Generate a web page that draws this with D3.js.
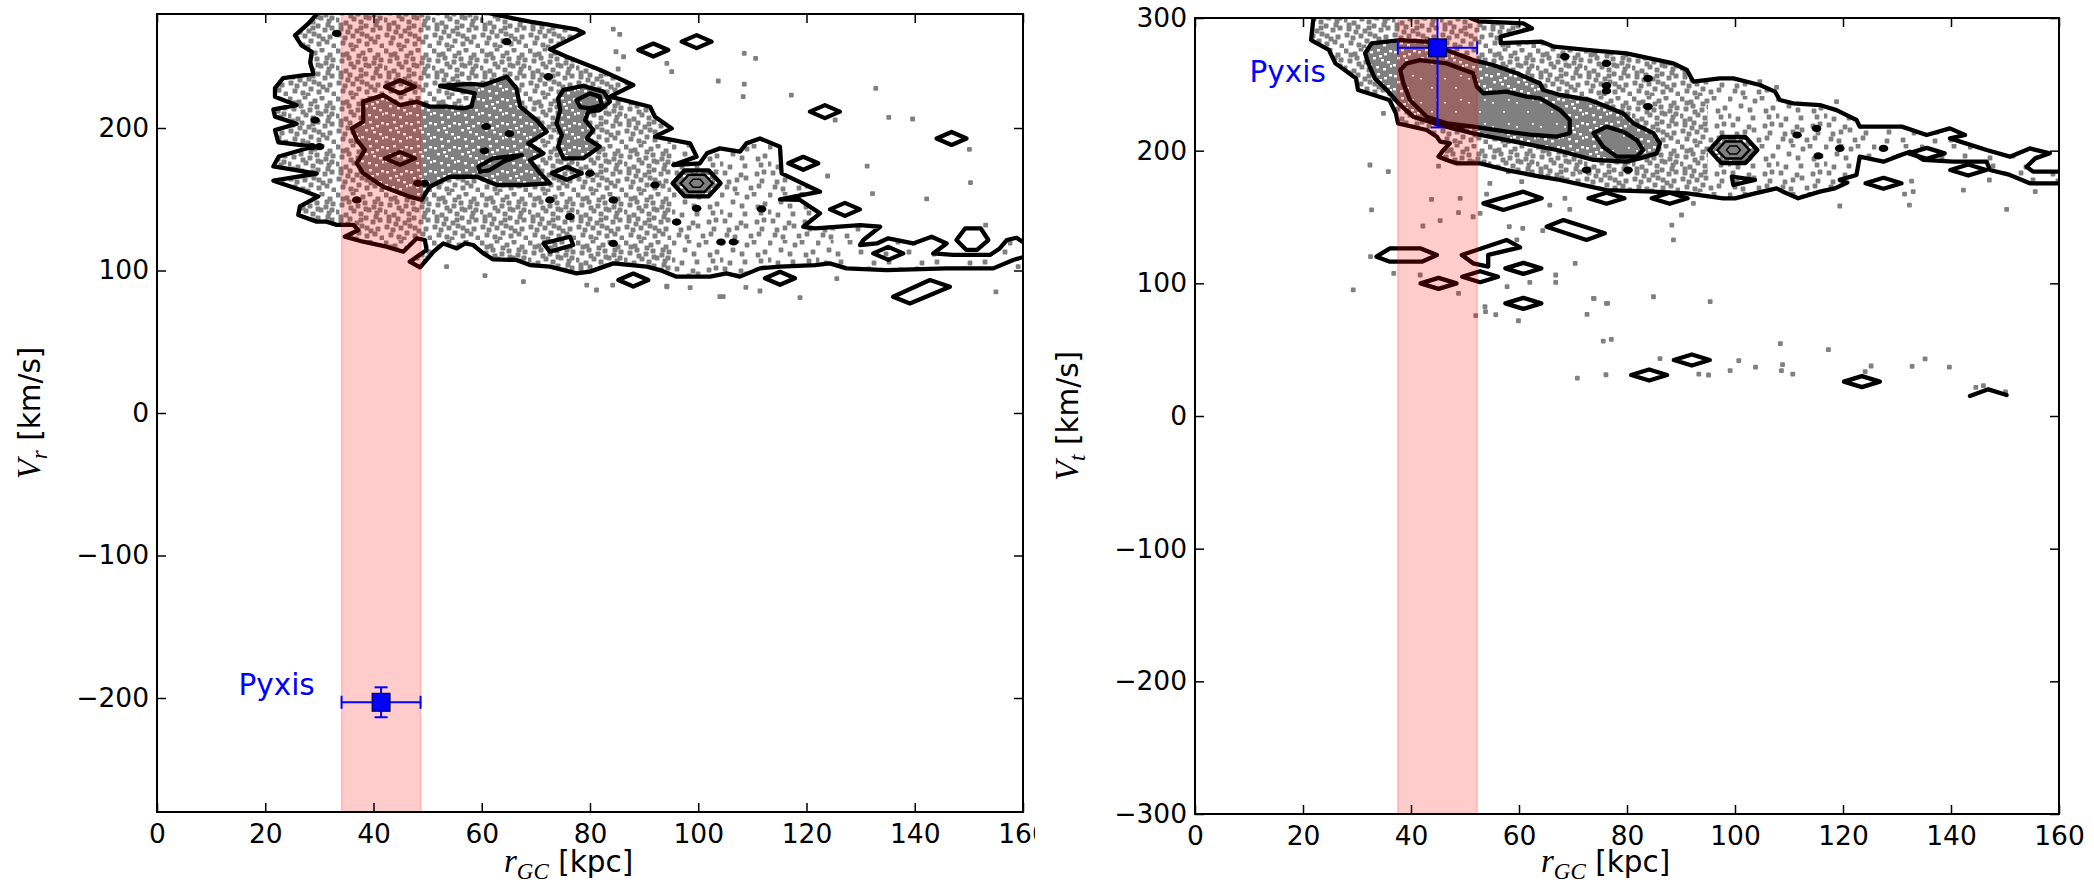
<!DOCTYPE html>
<html>
<head>
<meta charset="utf-8">
<script src="https://cdn.jsdelivr.net/npm/d3@7"></script>
<style>
  body { margin: 0; background: #fff; }
  svg { display: block; }
</style>
</head>
<body>
<svg id="fig" width="2094" height="887"></svg>
<script>
// ---- data (r in kpc, velocities in km/s) ----
const rTicks = [0, 20, 40, 60, 80, 100, 120, 140, 160];
const vrTicks = [-200, -100, 0, 100, 200];
const vtTicks = [-300, -200, -100, 0, 100, 200, 300];

// r, r error, v, v error
const pyxisVr = [41.4, 7.3, -203, 10.5];
const pyxisVt = [44.9, 7.35, 277.5, 60];

// left panel: outermost contour (runs off the top and right edges)
const vrOuter = [
  [30.5, 290], [30, 282], [27.9, 273], [25.5, 265], [26.7, 258], [28.6, 253.5], [28.3, 246],
  [28.9, 238], [23.3, 235], [21.8, 228], [21.8, 222], [25.8, 216], [21.5, 213], [21.8, 208],
  [25.8, 203], [21.8, 198.5], [22.4, 190], [28.9, 187], [22.5, 180], [21.5, 173], [29.5, 168],
  [21.5, 163], [27, 156], [29.8, 152], [26.4, 145], [26.1, 139], [29.5, 134.3], [31.3, 134.3],
  [33.2, 132], [36.3, 132], [37.2, 128.4], [34.7, 123.7], [38.1, 120.2], [42.4, 116.7],
  [45.5, 113.2], [48, 122.6], [49.5, 121.4], [49.8, 114.4], [46.7, 106.2], [48.6, 102.2],
  [51.1, 113.2], [52.9, 119], [55.4, 115.5], [56.9, 119], [58.4, 117.9], [60.3, 112],
  [62.1, 107.8], [66.4, 107.4], [68.9, 103.8], [72.6, 102.7], [77.5, 98], [80, 99.2],
  [84.3, 105], [90.5, 102.7], [92.9, 100.3], [96, 95.7], [102.2, 95.7], [105.2, 98],
  [107.7, 95.7], [111.4, 101.5], [115.1, 102.7], [121.6, 103.8], [124.3, 105], [127.4, 101.5],
  [134.8, 100.3], [145.9, 101.5], [154.5, 101.5], [158.2, 107.4], [161, 110.5], [161, 120],
  [159.9, 120.2], [158.8, 123], [157, 121.4], [155.7, 115.5], [153.9, 110.9], [147.1, 110.9],
  [143.4, 112], [145.9, 119], [143.1, 123.7], [139.7, 119], [135.1, 122.6], [133, 119],
  [129.9, 117.9], [130.5, 121.4], [133.6, 130.7], [129.9, 131.9], [121.6, 129.6], [119.4, 130.7],
  [122.5, 140.1], [118.8, 149.5], [115.1, 149.9], [122.5, 155.3], [115.4, 168.2], [115.1, 186.9],
  [111.4, 192.7], [108.9, 189.2], [107.7, 183.4], [104, 185.7], [101.6, 182.2], [100.3, 175.2],
  [95.4, 174], [99.7, 179.9], [98.5, 189.2], [92, 193.9], [95.1, 199.7], [92, 207.9],
  [91.1, 214.9], [83.7, 222], [88, 230.2], [81.9, 240.7], [75.7, 250], [72.6, 255.2],
  [78.8, 266.9], [77.5, 269.2], [72.6, 272.3], [68.9, 274.6], [65.8, 277], [60.9, 281], [60.5, 290]
];
const vrInner = [
  [[38.1, 218.5], [41.8, 223.1], [44.9, 216.1], [48, 218.5], [50.4, 215], [53.5, 215], [56.6, 213.8],
   [58.1, 215], [58.7, 224.3], [52.3, 229.5], [57.8, 230.9], [60.3, 230.2], [64.6, 236], [66.4, 227.8],
   [67.1, 215], [70.1, 205.6], [72, 197.4], [68.6, 189.2], [71.4, 182.2], [68.9, 177.5], [70.8, 168.2],
   [72.6, 161.2], [67.7, 160], [62.8, 160], [59.1, 165.8], [54.1, 165.8], [50.4, 158.8], [48.9, 149.5],
   [46.7, 151.8], [41.8, 158.8], [38.1, 168.2], [36.9, 175.2], [38.4, 184.6], [36.9, 191.6],
   [36, 199.8], [38.1, 204.4]],
  [[75.1, 226.7], [78.8, 229.5], [82.5, 225.5], [83.7, 218.5], [81.8, 212.6], [79.7, 211.5],
   [79.1, 205.6], [80.6, 198.6], [79.4, 192.7], [81.8, 186.9], [78.8, 178.7], [75.1, 178.7],
   [74.1, 186.9], [74.8, 195.1], [73.8, 203.3], [74.5, 212.6], [74.1, 220.8]]
];
const vrCore = [
  [[77.5, 219.6], [80, 224.3], [81.8, 222], [82.2, 216.1], [80, 213.8], [78.2, 214.6]]
];
const vrIslands = [
  [[71.4, 119], [76.3, 123.7], [76.9, 117.9], [72.6, 113.2]],
  [[147.7, 121.4], [149.3, 129.5], [152.2, 129.5], [153.6, 121.4], [151.5, 114.5], [149.5, 114.5]],
  [[136, 81.6], [142.8, 93.3], [146.5, 88.6], [139.1, 76.9]],
  [[59.4, 172.9], [62.1, 178.7], [67.4, 181], [64, 176.4], [61.5, 170.5], [59.7, 169.3]]
];
const vrOpen = [];
const vrDiamonds = [
  [44.9, 229], [44.9, 178.7], [75.7, 168.2], [88, 93.3], [91.7, 254.7], [99.7, 260.6],
  [123.4, 211.5], [146.8, 192.7], [119.4, 175.2], [127.1, 142.9], [115.1, 94.5], [135.1, 112]
];
const vrPeaks = [[99.7, 161.2]];
const vrKnots = [
  [33.2, 266.4], [64.6, 260.6], [72.3, 236], [60.8, 201], [65.1, 196], [60.5, 184], [29.2, 205.6],
  [28.6, 186.9], [30, 186.9], [36.9, 149.5], [48.2, 161.2], [49.4, 161.2], [72.6, 149.5],
  [76.3, 137.8], [80, 168.2], [84.3, 149.5], [92, 160], [96, 134], [99.7, 143.6], [84.3, 119],
  [104.2, 120], [106.5, 120], [111.7, 143.2]
];
const vrStray = [
  [84.3, 269.4], [85.5, 265.7], [84.8, 253.5], [86.2, 250], [85.2, 241.4], [94.2, 245.4], [95.1, 239.5],
  [103.7, 233], [108.5, 252.4], [110.6, 248.9], [108.5, 230.8], [108.3, 222], [117.2, 223.1],
  [132.8, 227.8], [125.3, 205.6], [135.2, 207.5], [139.6, 206.3], [150.1, 185], [131.2, 173.3],
  [123.9, 166.3], [132.2, 153.9], [142.2, 150.2], [150.3, 161.6], [153.1, 131.9], [159.1, 102.7],
  [155, 85], [125.6, 94.3], [118.8, 80.9], [111.4, 85.6], [108.8, 88.2], [104.6, 81.6], [98.5, 88],
  [94.2, 89], [84.2, 89.8], [81.2, 86.3], [79.4, 89.8], [67.7, 92.2], [60.6, 96.4], [53.5, 102.7],
  [94.2, 88.6], [104, 81.6]
];

// right panel
const vtOuter = [
  [21.9, 310], [21.9, 298.5], [21.5, 283.4], [24.8, 275.9], [26, 265.8], [28.1, 259.6], [29.8, 254.5],
  [30.2, 245.7], [36, 238.2], [37.2, 228.2], [37.6, 220.6], [42.9, 215.6], [44.8, 210.5], [45.4, 206.8],
  [47.2, 205.5], [46, 200.5], [45.1, 195.5], [46.6, 193], [48.5, 190.4], [52.8, 190.4], [57.7, 185.4],
  [63.9, 180.4], [67.6, 177.9], [76.2, 170.3], [84.9, 169.1], [91.1, 167.8], [97.8, 164.1], [100, 164.1],
  [103.7, 167.8], [107.7, 171.6], [108.9, 169.1], [111.7, 164.1], [115.7, 169.1], [118.5, 171.6],
  [120.8, 176], [119.4, 178], [122.5, 181.7], [123.1, 195.5], [127.5, 191.7], [129.9, 195.5],
  [132.4, 199.2], [134.9, 193], [140.4, 191.7], [146.6, 191.7], [147.2, 185.4], [150.9, 181.7],
  [154.6, 175.4], [161, 175.4], [161, 184.2], [155.2, 184.2], [154, 187.9], [155.6, 194.2],
  [158.3, 198], [154.6, 201.7], [150.9, 195.5], [146.6, 200.5], [141.7, 206.8], [139.8, 209.3],
  [142.6, 211.8], [139.8, 216.8], [135.5, 211.8], [130.9, 218.1], [123.1, 218.1], [122.5, 223.1],
  [118.8, 230.6], [115.7, 234.4], [110.8, 235.7], [108.3, 238.2], [107.4, 244.5], [104.6, 249.5],
  [99.7, 254.5], [97.2, 254.5], [92.3, 252], [91.1, 260.8], [88.6, 265.8], [79.9, 273.4],
  [72.5, 275.9], [66.5, 278.4], [64.1, 282.2], [56.6, 281], [56.6, 286], [62.4, 292.2], [60.8, 296],
  [52.5, 297.5], [51, 300], [51, 310]
];
const vtInner = [
  [[32.7, 280.9], [38, 283.4], [42.9, 282.2], [46.6, 275.9], [51.5, 268.3], [55.2, 264.6],
   [59.6, 258.3], [63.9, 250.7], [64.5, 245.7], [67.6, 242], [73.1, 238.2], [76.2, 233.2],
   [79.3, 228.1], [81.2, 220.6], [84.9, 213.1], [86.1, 205.5], [85.5, 198], [82.4, 194.2],
   [79.9, 191.7], [73.8, 193], [67, 200.5], [60.8, 205.5], [51.5, 213], [45.4, 219.3],
   [40.4, 225.6], [37.7, 235.7], [35.5, 245.7], [33.3, 254.5], [32.1, 265.8], [31.5, 273.4]]
];
const vtCore = [
  [[38, 260.8], [39.2, 265.8], [41.7, 268.3], [46.6, 265.8], [51.5, 258.3], [52.2, 248.2],
   [53.4, 243.2], [57.7, 244.5], [61.4, 240.7], [63.9, 239.5], [67.6, 230.6], [69.4, 223.1],
   [69.4, 213.1], [67, 210.6], [62.7, 211.8], [57.7, 214.3], [51.5, 218.1], [46.6, 220.6],
   [42.9, 225.6], [39.8, 238.2], [38.6, 250.7]],
  [[73.8, 213.1], [76.2, 218.1], [79.3, 214.3], [81.8, 208], [83, 200.5], [81.8, 195.5],
   [78.1, 195.5], [75.6, 203]]
];
const vtIslands = [
  [[53.4, 160.3], [60.8, 169.1], [64.2, 164.1], [57.1, 155.3]],
  [[65.1, 142.7], [68.2, 147.7], [75.9, 137.7], [72.5, 132.7]],
  [[33.6, 120.1], [36.1, 126.4], [41.7, 126.4], [44.8, 121.3], [42, 116.3], [36.1, 116.3]],
  [[49.4, 121.4], [57.7, 132.7], [60.2, 127.1], [54.3, 121.4], [54.3, 112.6], [51.5, 115.1]],
  [[99.4, 180.4], [103.7, 177.9], [99.7, 174.1]]
];
const vtOpen = [[[143.5, 15.1], [146.9, 20.1], [150.3, 15.8]]];
const vtDiamonds = [
  [76.2, 164.1], [87.9, 164.1], [45.1, 100], [52.8, 105], [60.8, 111.3], [60.8, 84.9], [84.1, 30.9],
  [92, 42.2], [123.5, 25.9], [127.5, 175.4], [143.2, 185.4], [135.5, 198]
];
const vtPeaks = [[99.7, 200.5]];
const vtKnots = [
  [68.5, 270.9], [76.2, 265.8], [83.9, 254.5], [83.9, 233.2], [76.2, 249], [76.2, 245], [49.1, 217.6],
  [72.5, 185.4], [80.2, 185.4], [115.1, 216.8], [111.5, 211.8], [119.4, 201.7], [115.4, 196], [127.5, 201.7]
];
const vtStray = [
  [34.9, 228.1], [32.4, 189.2], [35.8, 184.2], [45.1, 188.4], [58, 184.2], [60.5, 176.6], [54.6, 175.4],
  [54, 167.3], [43.8, 163.3], [49.1, 164.1], [32.7, 155.3], [48.8, 153.3], [45.4, 147.2], [42.2, 143.2],
  [51.5, 150.2], [52.8, 152.8], [65.7, 159], [68.5, 164.1], [69.4, 155.8], [58.2, 142.7], [60.7, 141.4],
  [64.4, 139.7], [88.3, 143.9], [90.1, 151.5], [88.6, 132.7], [92.3, 160.3], [32.5, 120.1], [36.8, 107.5],
  [29.3, 95], [41.7, 106.3], [48.8, 92.5], [59.6, 132.7], [66.8, 106.3], [70.4, 115.1], [76.2, 84.9],
  [73.8, 88.7], [84.9, 89.9], [95.4, 86.2], [53.7, 82.4], [52, 75.6], [53.8, 78.6], [55.7, 76.4],
  [59.9, 71.8], [57.8, 97.5], [62, 100.7], [66.8, 100.7], [73.9, 88.4], [76.4, 84.9], [72.6, 76.6],
  [75.6, 56.5], [77.1, 57.8], [70.8, 28.6], [76.1, 31.1], [86.1, 43.2], [93.3, 31.6], [95.1, 30.9],
  [99.1, 34.2], [100.7, 41.7], [103.8, 36.9], [108.4, 54.5], [108.8, 38.7], [108.6, 34.2], [110.7, 31.6],
  [117.3, 50], [125.2, 37.7], [124.1, 33.4], [132.8, 37.4], [135.2, 43], [139.7, 36.9], [144.6, 21.6],
  [146, 22.9], [150.1, 18.1], [118.8, 236.9], [104.6, 252], [107.7, 247.7], [132.7, 177.1], [133, 169.1],
  [131.4, 167.3], [132.3, 159], [119.4, 158.3], [142.3, 170.3], [150.3, 155.8], [155.6, 169.1], [147.1, 177.9]
];

// ---- drawing ----
const svg = d3.select("#fig");
const defs = svg.append("defs");
const GREY = "#808080";
const LW = 4.3; // contour line width

// speckle texture standing in for the dense point cloud (third value = thinning rank)
const tile = [
  [2, 3, 0], [11, 6, 2], [17, 1, 1], [27, 5, 1], [34, 2, 0], [42, 7, 2],
  [6, 13, 2], [13, 10, 1], [22, 14, 0], [29, 11, 2], [38, 15, 1], [45, 12, 0],
  [1, 20, 1], [10, 23, 0], [18, 19, 2], [25, 22, 0], [33, 18, 2], [41, 21, 1],
  [5, 29, 0], [14, 27, 2], [21, 31, 1], [30, 26, 2], [37, 30, 0], [44, 28, 1],
  [3, 35, 2], [9, 38, 1], [17, 36, 0], [26, 34, 1], [35, 39, 2], [42, 37, 0],
  [7, 43, 1], [15, 45, 0], [23, 41, 2], [31, 44, 0], [39, 42, 1], [46, 46, 2],
  [7, 7, 3], [23, 8, 3], [39, 10, 3], [15, 16, 3], [30, 17, 3], [44, 18, 3],
  [5, 25, 3], [25, 28, 3], [40, 25, 3], [12, 32, 3], [31, 36, 3], [20, 47, 3]
];
function dotPattern(id, maxRank, s) {
  const p = defs.append("pattern").attr("id", id)
    .attr("patternUnits", "userSpaceOnUse").attr("width", 48).attr("height", 48);
  p.selectAll("rect").data(tile.filter((t) => t[2] <= maxRank)).join("rect")
    .attr("x", (t) => t[0] - s / 2).attr("y", (t) => t[1] - s / 2)
    .attr("width", s).attr("height", s).attr("rx", 1).attr("fill", GREY);
}
dotPattern("dotsA", 3, 5);
dotPattern("dotsB", 1, 4.8);
dotPattern("dotsC", 0, 4.8);

function solidPattern(id, specks, s) {
  const p = defs.append("pattern").attr("id", id)
    .attr("patternUnits", "userSpaceOnUse").attr("width", 24).attr("height", 24);
  p.append("rect").attr("width", 24).attr("height", 24).attr("fill", GREY);
  p.selectAll("rect.s").data(specks).join("rect").attr("class", "s")
    .attr("x", (d) => d[0]).attr("y", (d) => d[1]).attr("width", s).attr("height", s * 0.8).attr("fill", "#fff");
}
solidPattern("dense", [[2, 3], [9, 1], [16, 5], [21, 2], [5, 9], [13, 11], [19, 13], [1, 16], [8, 18], [15, 20], [22, 17], [11, 7]], 3);
solidPattern("core", [[4, 6], [15, 15], [20, 3]], 2);

const panels = [
  {
    id: "vr", left: 157, right: 1023, top: 14, bottom: 812, ydom: [-280, 280], yTicks: vrTicks,
    outer: vrOuter, inner: vrInner, core: vrCore, islands: vrIslands, open: vrOpen,
    diamonds: vrDiamonds, dia: [15, 6.5], peaks: vrPeaks, knots: vrKnots, stray: vrStray,
    pyxis: pyxisVr, label: [15.05, -198], sub: "r", ylabX: 40, tickClip: 1035
  },
  {
    id: "vt", left: 1195, right: 2059, top: 18, bottom: 814, ydom: [-300, 300], yTicks: vtTicks,
    outer: vtOuter, inner: vtInner, core: vtCore, islands: vtIslands, open: vtOpen,
    diamonds: vtDiamonds, dia: [18, 5.5], peaks: vtPeaks, knots: vtKnots, stray: vtStray,
    pyxis: pyxisVt, label: [10.1, 252], sub: "t", ylabX: 1078, tickClip: null
  }
];

panels.forEach(drawPanel);

function drawPanel(o) {
  const x = d3.scaleLinear([0, 160], [o.left, o.right]);
  const y = d3.scaleLinear(o.ydom, [o.bottom, o.top]);
  const line = d3.line().x((d) => x(d[0])).y((d) => y(d[1]));
  const ring = d3.line().x((d) => x(d[0])).y((d) => y(d[1])).curve(d3.curveLinearClosed);

  defs.append("clipPath").attr("id", o.id + "-clip").append("rect")
    .attr("x", o.left).attr("y", o.top).attr("width", o.right - o.left).attr("height", o.bottom - o.top);
  const plot = svg.append("g").attr("clip-path", `url(#${o.id}-clip)`);

  // speckled cloud, thinning out towards large radii
  [[0, 95, "dotsA"], [95, 125, "dotsB"], [125, 170, "dotsC"]].forEach(([r0, r1, pat], i) => {
    const cid = `${o.id}-zone${i}`;
    defs.append("clipPath").attr("id", cid).append("rect")
      .attr("x", x(r0)).attr("y", 0).attr("width", x(r1) - x(r0)).attr("height", 887);
    plot.append("path").attr("d", ring(o.outer)).attr("fill", `url(#${pat})`).attr("clip-path", `url(#${cid})`);
  });
  o.inner.forEach((p) => plot.append("path").attr("d", ring(p)).attr("fill", "url(#dense)"));
  o.core.forEach((p) => plot.append("path").attr("d", ring(p)).attr("fill", "url(#core)"));

  plot.selectAll("rect.stray").data(o.stray).join("rect").attr("class", "stray")
    .attr("x", (d) => x(d[0]) - 2.4).attr("y", (d) => y(d[1]) - 2.4)
    .attr("width", 4.8).attr("height", 4.8).attr("rx", 1).attr("fill", GREY);

  // contour lines
  const cl = plot.append("g").attr("fill", "none").attr("stroke", "#000")
    .attr("stroke-width", LW).attr("stroke-linejoin", "round").attr("stroke-linecap", "round");
  cl.append("path").attr("d", line(o.outer));
  o.inner.concat(o.core, o.islands).forEach((p) => cl.append("path").attr("d", ring(p)));
  o.open.forEach((p) => cl.append("path").attr("d", line(p)));
  const [hw, hh] = o.dia;
  cl.selectAll("path.dia").data(o.diamonds).join("path").attr("class", "dia")
    .attr("d", (d) => {
      const cx = x(d[0]), cy = y(d[1]);
      return `M${cx - hw},${cy}L${cx},${cy - hh}L${cx + hw},${cy}L${cx},${cy + hh}Z`;
    });
  const hex = (cx, cy, w, h) =>
    `M${cx - w},${cy}L${cx - w / 2},${cy - h}L${cx + w / 2},${cy - h}L${cx + w},${cy}L${cx + w / 2},${cy + h}L${cx - w / 2},${cy + h}Z`;
  o.peaks.forEach((d) => {
    const cx = x(d[0]), cy = y(d[1]);
    plot.append("path").attr("d", hex(cx, cy, 24, 13)).attr("fill", "url(#dense)")
      .attr("stroke", "#000").attr("stroke-width", LW).attr("stroke-linejoin", "round");
    plot.append("path").attr("d", hex(cx, cy, 16, 8.5)).attr("fill", GREY)
      .attr("stroke", "#000").attr("stroke-width", 2.4);
    plot.append("path").attr("d", hex(cx, cy, 7, 4)).attr("fill", "none")
      .attr("stroke", "#000").attr("stroke-width", 1.5);
  });
  plot.selectAll("ellipse").data(o.knots).join("ellipse")
    .attr("cx", (d) => x(d[0])).attr("cy", (d) => y(d[1])).attr("rx", 4.8).attr("ry", 3.6).attr("fill", "#000");

  // shaded band = Pyxis distance range
  const [pr, pre, pv, pve] = o.pyxis;
  plot.append("rect").attr("x", x(pr - pre)).attr("y", o.top).attr("width", x(pr + pre) - x(pr - pre))
    .attr("height", o.bottom - o.top).attr("fill", "red").attr("fill-opacity", 0.2);
  [pr - pre, pr + pre].forEach((r) => plot.append("line").attr("x1", x(r)).attr("x2", x(r))
    .attr("y1", o.top).attr("y2", o.bottom).attr("stroke", "red").attr("stroke-opacity", 0.2).attr("stroke-width", 1.5));

  // Pyxis point with error bars
  const eb = plot.append("g").attr("stroke", "#0000ff").attr("stroke-width", 2);
  eb.append("line").attr("x1", x(pr - pre)).attr("x2", x(pr + pre)).attr("y1", y(pv)).attr("y2", y(pv));
  eb.append("line").attr("x1", x(pr)).attr("x2", x(pr)).attr("y1", y(pv - pve)).attr("y2", y(pv + pve));
  [pr - pre, pr + pre].forEach((r) => eb.append("line").attr("x1", x(r)).attr("x2", x(r))
    .attr("y1", y(pv) - 6.5).attr("y2", y(pv) + 6.5));
  [pv - pve, pv + pve].forEach((v) => eb.append("line").attr("x1", x(pr) - 6.5).attr("x2", x(pr) + 6.5)
    .attr("y1", y(v)).attr("y2", y(v)));
  plot.append("rect").attr("x", x(pr) - 9).attr("y", y(pv) - 9).attr("width", 18).attr("height", 18)
    .attr("fill", "#0000ff").attr("stroke", "#000033").attr("stroke-width", 1);
  plot.append("text").attr("x", x(o.label[0])).attr("y", y(o.label[1]))
    .attr("font-family", "DejaVu Sans").attr("font-size", 29.5).attr("fill", "#0000ff").text("Pyxis");

  // axes: ticks inside on all four sides
  const fmt = d3.format("d");
  const styleAxis = (g) => {
    g.attr("font-family", "DejaVu Sans").attr("font-size", 26.5);
    g.select(".domain").remove();
    g.selectAll(".tick line").attr("stroke", "#000").attr("stroke-width", 1.5);
    g.selectAll(".tick text").attr("fill", "#000");
  };
  const xb = svg.append("g").attr("transform", `translate(0,${o.bottom})`)
    .call(d3.axisBottom(x).tickValues(rTicks).tickFormat(fmt).tickSizeInner(-9).tickSizeOuter(0).tickPadding(12))
    .call(styleAxis);
  if (o.tickClip) {
    defs.append("clipPath").attr("id", o.id + "-tclip").append("rect")
      .attr("x", 0).attr("y", -20).attr("width", o.tickClip).attr("height", 100);
    xb.attr("clip-path", `url(#${o.id}-tclip)`);
  }
  svg.append("g").attr("transform", `translate(0,${o.top})`)
    .call(d3.axisTop(x).tickValues(rTicks).tickFormat("").tickSizeInner(-9).tickSizeOuter(0)).call(styleAxis);
  svg.append("g").attr("transform", `translate(${o.left},0)`)
    .call(d3.axisLeft(y).tickValues(o.yTicks).tickFormat(fmt).tickSizeInner(-9).tickSizeOuter(0).tickPadding(8))
    .call(styleAxis);
  svg.append("g").attr("transform", `translate(${o.right},0)`)
    .call(d3.axisRight(y).tickValues(o.yTicks).tickFormat("").tickSizeInner(-9).tickSizeOuter(0)).call(styleAxis);

  svg.append("rect").attr("x", o.left).attr("y", o.top).attr("width", o.right - o.left)
    .attr("height", o.bottom - o.top).attr("fill", "none").attr("stroke", "#000").attr("stroke-width", 2);

  // axis titles (math part in an italic serif)
  const xl = svg.append("text").attr("x", (o.left + o.right) / 2 - 86).attr("y", 872)
    .attr("font-family", "DejaVu Sans").attr("font-size", 29.5);
  xl.append("tspan").attr("font-family", "Liberation Serif").attr("font-style", "italic").attr("font-size", 33).text("r");
  xl.append("tspan").attr("font-family", "Liberation Serif").attr("font-style", "italic").attr("font-size", 23)
    .attr("dy", 7).text("GC");
  xl.append("tspan").attr("dy", -7).text("\u00a0[kpc]");

  const yl = svg.append("text")
    .attr("transform", `translate(${o.ylabX},${(o.top + o.bottom) / 2}) rotate(-90)`)
    .attr("text-anchor", "middle").attr("font-family", "DejaVu Sans").attr("font-size", 29.5);
  yl.append("tspan").attr("font-family", "Liberation Serif").attr("font-style", "italic").attr("font-size", 33).text("V");
  yl.append("tspan").attr("font-family", "Liberation Serif").attr("font-style", "italic").attr("font-size", 23)
    .attr("dy", 7).text(o.sub);
  yl.append("tspan").attr("dy", -7).text("\u00a0[km/s]");
}
</script>
</body>
</html>
